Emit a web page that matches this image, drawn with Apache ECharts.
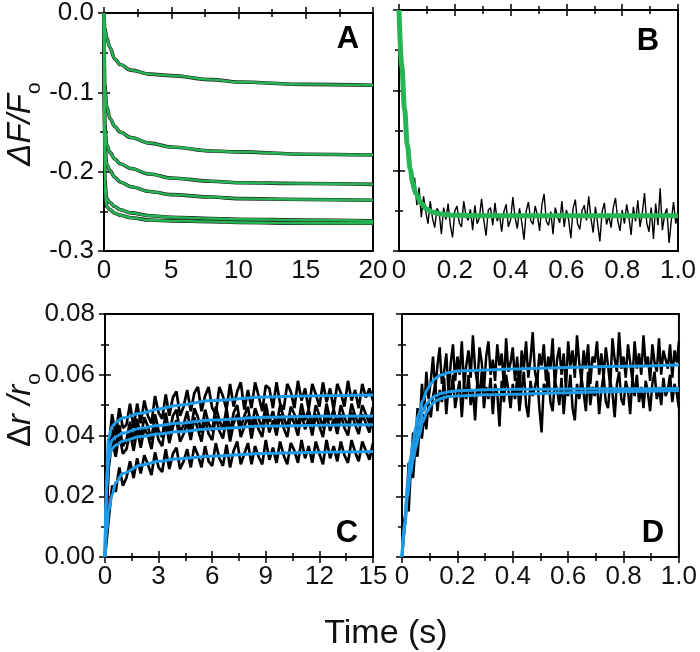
<!DOCTYPE html>
<html><head><meta charset="utf-8">
<script src="https://cdn.jsdelivr.net/npm/echarts@6/dist/echarts.min.js"></script>
<style>html,body{margin:0;padding:0;background:#fff}#c{width:700px;height:652px}</style>
</head><body><div id="c"></div>
<script>
// ---------- Panel A (ΔF/Fo, 0-20 s): fits / traces ----------
const tA  = [0, 0.05, 0.2, 0.45, 0.8, 1.2, 2, 3.4, 5, 8, 10, 15, 20];
const fitA1 = [0, -0.018, -0.031, -0.044, -0.058, -0.065, -0.072, -0.077, -0.079, -0.084, -0.087, -0.090, -0.091];
const fitA2 = [0, -0.090, -0.118, -0.133, -0.143, -0.150, -0.157, -0.164, -0.169, -0.174, -0.175, -0.178, -0.179];
const fitA3 = [0, -0.140, -0.166, -0.176, -0.184, -0.190, -0.196, -0.203, -0.208, -0.212, -0.214, -0.215, -0.216];
const fitA4 = [0, -0.165, -0.191, -0.199, -0.207, -0.213, -0.219, -0.225, -0.229, -0.232, -0.234, -0.235, -0.236];
const fitA5 = [0, -0.210, -0.234, -0.239, -0.244, -0.248, -0.252, -0.2555, -0.2575, -0.259, -0.260, -0.261, -0.262];
const fitA6 = [0, -0.220, -0.244, -0.248, -0.2525, -0.255, -0.258, -0.261, -0.262, -0.263, -0.264, -0.265, -0.265];

// ---------- Panel B (ΔF/Fo, 0-1 s) ----------
const tB   = [0, 0.01, 0.02, 0.03, 0.04, 0.05, 0.06, 0.08, 0.1, 0.12, 0.15, 0.2, 0.3, 0.5, 0.75, 1.0];
const fitB = [0, -0.070, -0.124, -0.168, -0.198, -0.216, -0.228, -0.241, -0.248, -0.2515, -0.254, -0.2555, -0.256, -0.256, -0.256, -0.256];
const dtB = 0.008;
const rawB = [
 0, -.052, -.108, -.136, -.181, -.192, -.222, -.209, -.243, -.221,
 -.258, -.232, -.251, -.266, -.238, -.259, -.271, -.247, -.252, -.279,
 -.246, -.261, -.241, -.268, -.283, -.250, -.244, -.265, -.270, -.238,
 -.256, -.262, -.248, -.274, -.243, -.266, -.259, -.235, -.262, -.281,
 -.249, -.246, -.268, -.240, -.263, -.254, -.276, -.251, -.242, -.270,
 -.261, -.233, -.258, -.272, -.247, -.264, -.286, -.250, -.239, -.262,
 -.267, -.244, -.255, -.275, -.243, -.229, -.263, -.268, -.251, -.279,
 -.246, -.257, -.265, -.238, -.270, -.249, -.261, -.284, -.247, -.236,
 -.266, -.273, -.250, -.243, -.262, -.232, -.259, -.277, -.245, -.266,
 -.288, -.251, -.240, -.267, -.256, -.271, -.246, -.234, -.262, -.275,
 -.249, -.266, -.242, -.258, -.280, -.245, -.263, -.237, -.270, -.253,
 -.228, -.265, -.276, -.246, -.285, -.241, -.268, -.222, -.274, -.255,
 -.247, -.290, -.262, -.239, -.266, -.250];

// ---------- Panel C (Δr/ro, 0-15 s) ----------
const tC    = [0, 0.1, 0.2, 0.4, 0.6, 1, 2, 3, 4, 6, 9, 12, 15];
const fitC1 = [0, 0.030, 0.039, 0.043, 0.0443, 0.0458, 0.0473, 0.0487, 0.0499, 0.0515, 0.0527, 0.0531, 0.0533];
const fitC2 = [0, 0.026, 0.035, 0.0385, 0.0396, 0.0408, 0.0424, 0.0433, 0.0440, 0.0451, 0.0460, 0.0463, 0.0464];
const fitC3 = [0, 0.023, 0.032, 0.0357, 0.0368, 0.0382, 0.0397, 0.0405, 0.0412, 0.0422, 0.0431, 0.0434, 0.0435];
const fitC4 = [0, 0.009, 0.015, 0.0205, 0.0245, 0.0275, 0.0302, 0.0315, 0.0323, 0.0332, 0.0341, 0.0345, 0.0347];
const dtC = 0.2;
const rawC1 = [
 0, .036, .047, .040, .049, .0425, .0435, .0505, .0425, .0505,
 .0440, .0515, .0465, .0440, .0530, .0475, .0455, .0535, .0465, .0525,
 .0545, .0465, .0495, .0550, .0480, .0540, .0560, .0480, .0530, .0560,
 .0490, .0470, .0560, .0530, .0485, .0570, .0495, .0545, .0575, .0485,
 .0550, .0490, .0575, .0530, .0480, .0565, .0555, .0490, .0575, .0505,
 .0485, .0570, .0545, .0490, .0580, .0515, .0555, .0485, .0570, .0535,
 .0495, .0575, .0510, .0555, .0485, .0570, .0540, .0495, .0580, .0515,
 .0550, .0490, .0570, .0525, .0555, .0515];
const rawC2 = [
 0, .032, .0420, .0355, .0435, .0365, .0385, .0445, .0380, .0455,
 .0390, .0460, .0430, .0385, .0470, .0415, .0395, .0475, .0405, .0465,
 .0485, .0410, .0435, .0480, .0415, .0490, .0460, .0410, .0485, .0440,
 .0415, .0495, .0450, .0420, .0490, .0410, .0475, .0500, .0425, .0465,
 .0495, .0420, .0490, .0455, .0425, .0505, .0445, .0480, .0430, .0500,
 .0460, .0425, .0495, .0470, .0430, .0505, .0450, .0485, .0430, .0500,
 .0465, .0425, .0505, .0450, .0485, .0435, .0500, .0460, .0430, .0505,
 .0465, .0435, .0500, .0470, .0440, .0495];
const rawC3 = [
 0, .029, .0385, .0330, .0405, .0340, .0355, .0410, .0350, .0420,
 .0360, .0425, .0400, .0355, .0435, .0385, .0365, .0445, .0375, .0430,
 .0450, .0380, .0405, .0445, .0385, .0460, .0420, .0380, .0455, .0405,
 .0385, .0465, .0415, .0390, .0460, .0380, .0440, .0470, .0395, .0430,
 .0465, .0390, .0455, .0420, .0395, .0475, .0410, .0450, .0400, .0470,
 .0425, .0395, .0465, .0440, .0400, .0475, .0420, .0455, .0400, .0470,
 .0430, .0395, .0475, .0415, .0455, .0405, .0470, .0425, .0400, .0475,
 .0435, .0405, .0470, .0440, .0410, .0465];
const rawC4 = [
 0, .012, .0235, .0215, .0295, .0235, .0260, .0315, .0260, .0325,
 .0275, .0335, .0305, .0270, .0345, .0295, .0280, .0355, .0290, .0340,
 .0360, .0290, .0315, .0355, .0295, .0365, .0335, .0295, .0365, .0315,
 .0300, .0375, .0325, .0300, .0370, .0295, .0350, .0380, .0305, .0340,
 .0375, .0305, .0365, .0330, .0305, .0385, .0320, .0360, .0310, .0380,
 .0335, .0305, .0375, .0350, .0310, .0385, .0325, .0365, .0310, .0380,
 .0340, .0305, .0385, .0325, .0365, .0315, .0380, .0335, .0310, .0385,
 .0345, .0315, .0380, .0350, .0320, .0375];

// ---------- Panel D (Δr/ro, 0-1 s) ----------
const tD    = [0, 0.01, 0.02, 0.03, 0.04, 0.05, 0.06, 0.075, 0.09, 0.105, 0.12, 0.14, 0.17, 0.2, 0.25, 0.3, 0.4, 0.6, 0.8, 1.0];
const fitD1 = [0, 0.012, 0.024, 0.032, 0.038, 0.043, 0.047, 0.0515, 0.055, 0.0572, 0.0588, 0.0599, 0.0607, 0.0612, 0.0614, 0.0616, 0.0619, 0.0624, 0.0628, 0.0632];
const fitD2 = [0, 0.011, 0.022, 0.029, 0.034, 0.038, 0.043, 0.048, 0.0505, 0.052, 0.053, 0.0538, 0.0544, 0.0547, 0.0549, 0.0551, 0.0552, 0.0553, 0.0554, 0.0555];
const fitD3 = [0, 0.010, 0.020, 0.027, 0.032, 0.036, 0.0395, 0.0445, 0.0478, 0.0500, 0.0513, 0.0522, 0.0528, 0.0530, 0.0532, 0.0534, 0.0536, 0.0541, 0.0545, 0.0548];
const dtD = 0.008;
const rawD1 = [
 0, .012, .016, .031, .029, .041, .036, .049, .044, .057,
 .048, .061, .052, .058, .066, .055, .063, .069, .057, .061,
 .067, .054, .064, .070, .058, .066, .060, .071, .056, .063,
 .068, .059, .073, .062, .057, .069, .064, .055, .066, .071,
 .060, .065, .058, .070, .063, .067, .056, .072, .061, .064,
 .069, .058, .066, .053, .068, .062, .071, .059, .065, .074,
 .061, .057, .067, .063, .070, .058, .066, .062, .072, .056,
 .065, .069, .060, .067, .055, .071, .063, .068, .059, .073,
 .064, .058, .068, .062, .070, .057, .066, .064, .071, .060,
 .067, .059, .069, .063, .056, .072, .065, .061, .074, .062,
 .066, .059, .070, .064, .058, .071, .062, .067, .060, .073,
 .063, .066, .058, .070, .064, .061, .072, .060, .068, .065,
 .062, .070, .059, .068, .064, .071];
const rawD2 = [
 0, .008, .019, .015, .029, .026, .036, .033, .043, .039,
 .047, .042, .051, .046, .053, .057, .048, .055, .051, .059,
 .047, .056, .053, .060, .049, .054, .058, .046, .057, .052,
 .060, .050, .055, .045, .058, .053, .061, .049, .056, .052,
 .059, .047, .057, .054, .043, .058, .051, .060, .055, .049,
 .057, .052, .059, .048, .055, .061, .050, .046, .058, .053,
 .056, .060, .049, .041, .057, .054, .061, .051, .048, .058,
 .055, .050, .059, .047, .056, .053, .060, .049, .045, .057,
 .052, .059, .054, .048, .061, .050, .056, .053, .058, .047,
 .055, .060, .051, .049, .058, .054, .046, .057, .061, .052,
 .050, .058, .055, .047, .059, .053, .060, .051, .056, .049,
 .058, .054, .048, .057, .061, .052, .056, .050, .059, .053,
 .055, .060, .051, .057, .054, .049];

// ---------- tick label text ----------
const panelLetters = ['A', 'B', 'C', 'D'];

// ---------- build ----------
const FONT = '"Liberation Sans", Arial, sans-serif';
const GREEN = '#25b552', BLUE = '#1d9be8';
const pairs = (ts, vs) => ts.map((t, i) => [t, vs[i]]);
const sampled = (vs, dt) => vs.map((v, i) => [Math.round(i * dt * 1000) / 1000, v]);

const grids = [
  {left: 104, top: 10, width: 269, height: 241},
  {left: 399, top: 10, width: 279, height: 241},
  {left: 105, top: 314, width: 268, height: 243},
  {left: 402, top: 314, width: 278, height: 243}
].map(g => Object.assign(g, {show: true, borderColor: '#000', borderWidth: 2, backgroundColor: 'transparent'}));

const tick = {show: true, inside: true, length: 6, lineStyle: {color: '#000', width: 1.5}};
const minor = {show: true, splitNumber: 2, length: 4, lineStyle: {color: '#000', width: 1.5}};
function axisPair(kind, gi, min, max, interval, showLabel, fmt) {
  const base = {type: 'value', gridIndex: gi, min, max, interval,
    axisLine: {show: false}, splitLine: {show: false}, axisTick: tick, minorTick: minor};
  return [
    Object.assign({}, base, {position: kind === 'x' ? 'bottom' : 'left',
      axisLabel: {show: showLabel, formatter: fmt, fontSize: 26, fontFamily: FONT, color: '#111', margin: kind === 'x' ? 7 : 10}}),
    Object.assign({}, base, {position: kind === 'x' ? 'top' : 'right', axisLabel: {show: false}})
  ];
}
const f1 = v => v.toFixed(1);
const f2 = v => v.toFixed(2);
const fInt = v => String(Math.round(v));
const fFrac = v => (Math.abs(v) < 1e-9 ? '0' : v.toFixed(1));

const xAxis = [].concat(
  axisPair('x', 0, 0, 20, 5, true, fInt),
  axisPair('x', 1, 0, 1, 0.2, true, fFrac),
  axisPair('x', 2, 0, 15, 3, true, fInt),
  axisPair('x', 3, 0, 1, 0.2, true, fFrac));
const yAxis = [].concat(
  axisPair('y', 0, -0.3, 0, 0.1, true, f1),
  axisPair('y', 1, -0.3, 0, 0.1, false, f1),
  axisPair('y', 2, 0, 0.08, 0.02, true, f2),
  axisPair('y', 3, 0, 0.08, 0.02, false, f2));

function line(gi, data, color, width, z, smooth) {
  return {type: 'line', xAxisIndex: 2 * gi, yAxisIndex: 2 * gi, data, showSymbol: false, symbol: 'none',
    lineStyle: {color, width}, smooth: smooth ? 0.35 : false, smoothMonotone: 'x', z, silent: true, animation: false};
}
const series = [];
[fitA1, fitA2, fitA3, fitA4, fitA5, fitA6].forEach(a => series.push(line(0, pairs(tA, a), '#222', 3.6, 2, true)));
[fitA1, fitA2, fitA3, fitA4, fitA5, fitA6].forEach(a => series.push(line(0, pairs(tA, a), GREEN, 2.4, 3, true)));
series.push(line(1, sampled(rawB, dtB), '#000', 1.4, 2, false));
series.push(line(1, pairs(tB, fitB), GREEN, 5, 3, true));
[rawC1, rawC2, rawC3, rawC4].forEach(a => series.push(line(2, sampled(a, dtC), '#000', 2.7, 2, false)));
[fitC1, fitC2, fitC3, fitC4].forEach(a => series.push(line(2, pairs(tC, a), BLUE, 3, 3, true)));
[rawD1, rawD2].forEach(a => series.push(line(3, sampled(a, dtD), '#000', 2.5, 2, false)));
[fitD1, fitD2, fitD3].forEach(a => series.push(line(3, pairs(tD, a), BLUE, 3, 3, true)));

const letterPos = [[348, 39], [648, 41], [347, 533], [653, 533]];
const graphic = letterPos.map((p, i) => ({type: 'text', x: p[0], y: p[1], z: 10,
  style: {text: panelLetters[i], font: 'bold 31px ' + FONT, fill: '#000', align: 'center', verticalAlign: 'middle'}}));
graphic.push({type: 'text', x: 21, y: 124, rotation: Math.PI / 2, z: 10,
  style: {text: '{a|ΔF/F}{b|o}', align: 'center', verticalAlign: 'middle', fill: '#111',
    rich: {a: {fontSize: 33, fontStyle: 'italic', fontFamily: FONT, lineHeight: 48, fill: '#111'},
           b: {fontSize: 21, fontFamily: FONT, lineHeight: 20, verticalAlign: 'bottom', fill: '#111'}}}});
graphic.push({type: 'text', x: 21, y: 410, rotation: Math.PI / 2, z: 10,
  style: {text: '{n|Δ}{a|r /r}{b|o}', align: 'center', verticalAlign: 'middle', fill: '#111',
    rich: {n: {fontSize: 33, fontFamily: FONT, lineHeight: 48, fill: '#111'},
           a: {fontSize: 33, fontStyle: 'italic', fontFamily: FONT, lineHeight: 48, fill: '#111'},
           b: {fontSize: 21, fontFamily: FONT, lineHeight: 20, verticalAlign: 'bottom', fill: '#111'}}}});
graphic.push({type: 'text', x: 386, y: 634, z: 10,
  style: {text: 'Time (s)', font: '34px ' + FONT, fill: '#111', align: 'center', verticalAlign: 'middle'}});

const chart = echarts.init(document.getElementById('c'), null, {renderer: 'canvas'});
chart.setOption({animation: false, backgroundColor: '#fff', grid: grids, xAxis, yAxis, series, graphic});
</script></body></html>
